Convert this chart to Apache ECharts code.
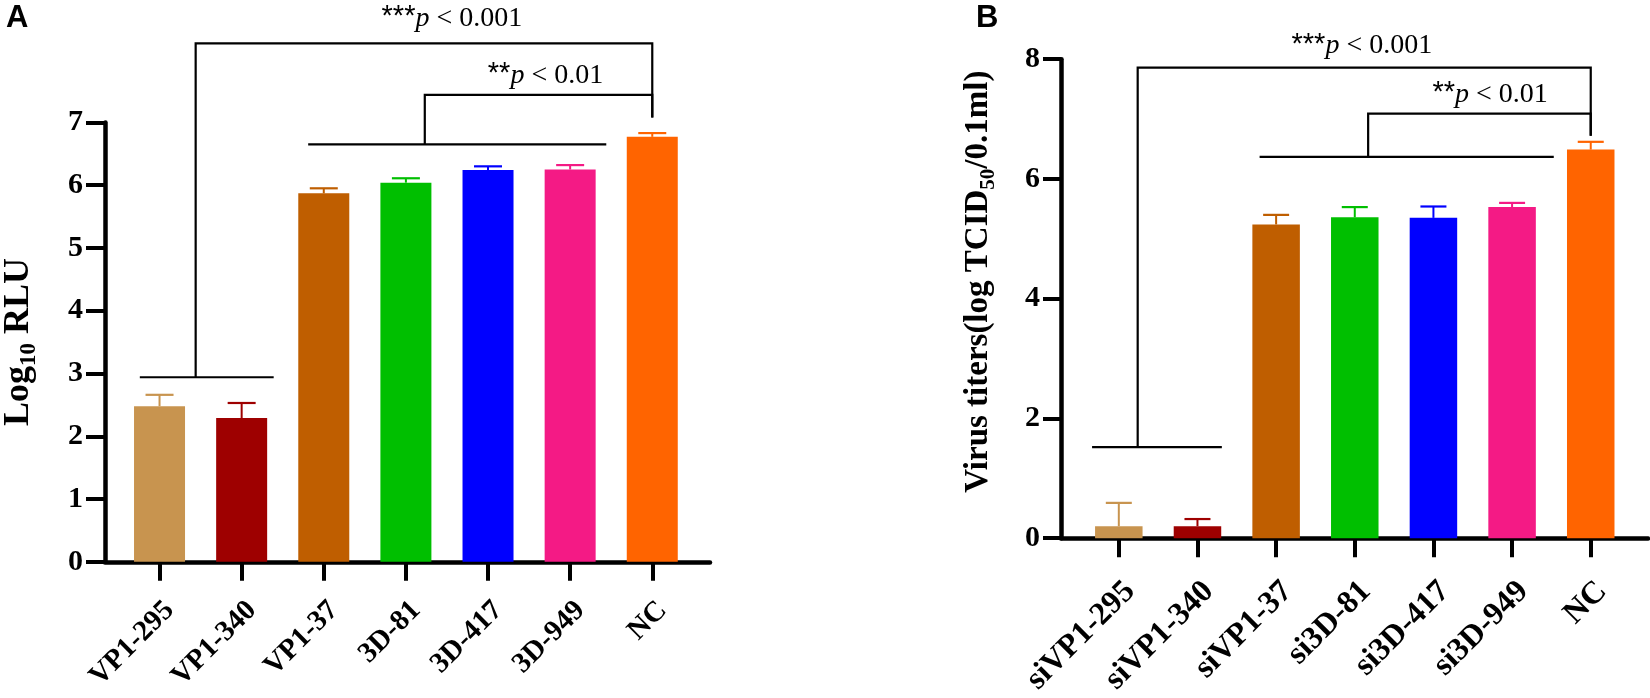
<!DOCTYPE html>
<html>
<head>
<meta charset="utf-8">
<script src="https://cdn.jsdelivr.net/npm/echarts@6/dist/echarts.min.js"></script>
<style>
html,body{margin:0;padding:0;background:#fff;}
#c{width:1650px;height:698px;}
</style>
</head>
<body>
<div id="c"></div>
<script>
// ---------- data ----------
const catsA = ['VP1-295', 'VP1-340', 'VP1-37', '3D-81', '3D-417', '3D-949', 'NC'];
const meanA = [2.48, 2.29, 5.87, 6.04, 6.24, 6.25, 6.77];
const errA  = [2.66, 2.53, 5.95, 6.11, 6.30, 6.32, 6.83];

const catsB = ['siVP1-295', 'siVP1-340', 'siVP1-37', 'si3D-81', 'si3D-417', 'si3D-949', 'NC'];
const meanB = [0.20, 0.20, 5.24, 5.36, 5.35, 5.53, 6.49];
const errB  = [0.59, 0.32, 5.40, 5.53, 5.54, 5.60, 6.62];

const barColors = ['#C8944F', '#9E0000', '#BF5E00', '#00BF00', '#0000FF', '#F41A85', '#FF6400'];

const yTicksA = [0, 1, 2, 3, 4, 5, 6, 7];
const yTicksB = [0, 2, 4, 6, 8];
const xTickPos = [0, 1, 2, 3, 4, 5, 6];

// significance annotations (category position / value units)
// group lines: [xFrom, xTo, y]
const groupLinesA = [[-0.24, 1.39, 2.94], [1.81, 5.44, 6.65]];
const groupLinesB = [[-0.34, 1.31, 1.52], [1.79, 5.53, 6.37]];
// brackets: [xLeft, xRight, yTop, yLeftBottom, yRightBottom]
const bracketsA = [[0.44, 6, 8.26, 2.94, 7.08], [3.23, 6, 7.44, 6.65, 7.08]];
const bracketsB = [[0.24, 6, 7.86, 1.52, 6.72], [3.17, 6, 7.09, 6.37, 6.72]];
// p-value labels: [x, y]
const pStars = ['***', '**'];
const pTexts = ['p', ' < 0.001', ' < 0.01'];
const pPosA = [[3.56, 8.65], [4.70, 7.74]];
const pPosB = [[3.09, 8.22], [4.72, 7.41]];

// ---------- chart ----------
const SERIF = '"Liberation Serif", "Times New Roman", serif';
const SANS = '"Liberation Sans", Arial, sans-serif';
const chart = echarts.init(document.getElementById('c'), null, {renderer: 'canvas'});

function xAxisCfg(gridIndex, min, max, cats, fontSize, margin) {
  return {
    type: 'value', gridIndex, min, max,
    splitLine: {show: false},
    axisLine: {show: true, onZero: false, lineStyle: {color: '#000', width: 4.5}},
    axisTick: {show: true, customValues: xTickPos, length: 19, inside: false,
               lineStyle: {color: '#000', width: 4}},
    axisLabel: {
      customValues: xTickPos, rotate: 45, margin, align: 'right', verticalAlign: 'top',
      fontFamily: SERIF, fontWeight: 'bold', fontSize, color: '#000',
      formatter: v => cats[Math.round(v)]
    }
  };
}
function yAxisCfg(gridIndex, max, interval, name, tickLen, margin, nameGap, nameSize, namePad) {
  return {
    type: 'value', gridIndex, min: 0, max, interval,
    splitLine: {show: false},
    axisLine: {show: true, onZero: false, lineStyle: {color: '#000', width: 4.5}},
    axisTick: {show: true, length: tickLen, lineStyle: {color: '#000', width: 4}},
    axisLabel: {margin, fontFamily: SERIF, fontWeight: 'bold', fontSize: 30, color: '#000'},
    name, nameLocation: 'middle', nameRotate: 90, nameGap,
    nameTextStyle: {
      padding: namePad,
      rich: {
        n: {fontFamily: SERIF, fontWeight: 'bold', fontSize: nameSize, color: '#000', lineHeight: nameSize + 8},
        s: {fontFamily: SERIF, fontWeight: 'bold', fontSize: Math.round(nameSize * 0.65), color: '#000',
            lineHeight: Math.round(nameSize * 0.65), verticalAlign: 'bottom'}
      }
    }
  };
}

function barSeries(idx, means, width) {
  return {
    type: 'bar', xAxisIndex: idx, yAxisIndex: idx, barWidth: width,
    data: means.map((m, i) => ({value: [i, m], itemStyle: {color: barColors[i]}})),
    z: 2
  };
}
function errSeries(idx, means, errs, halfCap) {
  return {
    type: 'custom', xAxisIndex: idx, yAxisIndex: idx, clip: false, z: 3,
    encode: {x: 0, y: [1, 2]},
    data: means.map((m, i) => [i, m, errs[i]]),
    renderItem(params, api) {
      const i = api.value(0);
      const base = api.coord([i, api.value(1)]);
      const top = api.coord([i, api.value(2)]);
      const c = barColors[i];
      return {type: 'group', children: [
        {type: 'line', shape: {x1: base[0], y1: base[1], x2: top[0], y2: top[1]}, style: {stroke: c, lineWidth: 2}},
        {type: 'line', shape: {x1: top[0] - halfCap, y1: top[1], x2: top[0] + halfCap, y2: top[1]}, style: {stroke: c, lineWidth: 2.2}}
      ]};
    }
  };
}
function groupLineSeries(idx, lines) {
  return {
    type: 'custom', xAxisIndex: idx, yAxisIndex: idx, clip: false, z: 4,
    encode: {x: [0, 1], y: 2},
    data: lines,
    renderItem(params, api) {
      const a = api.coord([api.value(0), api.value(2)]);
      const b = api.coord([api.value(1), api.value(2)]);
      return {type: 'line', shape: {x1: a[0], y1: a[1], x2: b[0], y2: b[1]}, style: {stroke: '#000', lineWidth: 2.2}};
    }
  };
}
function bracketSeries(idx, brs) {
  return {
    type: 'custom', xAxisIndex: idx, yAxisIndex: idx, clip: false, z: 4,
    encode: {x: [0, 1], y: [2, 3, 4]},
    data: brs,
    renderItem(params, api) {
      const xl = api.value(0), xr = api.value(1);
      const lb = api.coord([xl, api.value(3)]);
      const lt = api.coord([xl, api.value(2)]);
      const rt = api.coord([xr, api.value(2)]);
      const rb = api.coord([xr, api.value(4)]);
      return {type: 'polyline', shape: {points: [lb, lt, rt, rb]},
              style: {stroke: '#000', lineWidth: 2.2, fill: null, lineJoin: 'miter'}};
    }
  };
}
function pTextSeries(idx, pos) {
  return {
    type: 'custom', xAxisIndex: idx, yAxisIndex: idx, clip: false, z: 5,
    encode: {x: 0, y: 1},
    data: pos.map((p, i) => [p[0], p[1], i]),
    renderItem(params, api) {
      const i = api.value(2);
      const pt = api.coord([api.value(0), api.value(1)]);
      return {
        type: 'text',
        style: {
          x: pt[0], y: pt[1], align: 'center', verticalAlign: 'middle',
          text: '{s|' + pStars[i] + '}{p|' + pTexts[0] + '}{n|' + pTexts[i + 1] + '}',
          rich: {
            s: {fontFamily: SANS, fontSize: 29, fill: '#000', lineHeight: 26, verticalAlign: 'top'},
            p: {fontFamily: SERIF, fontStyle: 'italic', fontSize: 28, fill: '#000', lineHeight: 32},
            n: {fontFamily: SERIF, fontSize: 28, fill: '#000', lineHeight: 32}
          }
        }
      };
    }
  };
}

const option = {
  backgroundColor: '#fff',
  animation: false,
  title: [
    {text: 'A', left: 1, top: -2, textStyle: {fontFamily: SANS, fontWeight: 'bold', fontSize: 31, color: '#000'}},
    {text: 'B', left: 971, top: -2, textStyle: {fontFamily: SANS, fontWeight: 'bold', fontSize: 31, color: '#000'}}
  ],
  grid: [
    {left: 103.3, top: 122.4, width: 606.7, height: 439.4, containLabel: false},
    {left: 1061, top: 59.2, width: 587, height: 491.3, containLabel: false}
  ],
  xAxis: [
    xAxisCfg(0, -0.664, 6.703, catsA, 29, 34),
    xAxisCfg(1, -0.735, 6.728, catsB, 32, 37)
  ],
  yAxis: [
    yAxisCfg(0, 7, 1, '{n|Log}{s|10}{n| RLU}', 19, 22, 64, 36, [0, 0, 0, 0]),
    yAxisCfg(1, 8, 2, '{n|Virus titers(log TCID}{s|50}{n|/0.1ml)}', 18, 21, 62, 33, [0, 0, 0, 34])
  ],
  series: [
    barSeries(0, meanA, 51),
    errSeries(0, meanA, errA, 14),
    groupLineSeries(0, groupLinesA),
    bracketSeries(0, bracketsA),
    pTextSeries(0, pPosA),
    barSeries(1, meanB, 47.5),
    errSeries(1, meanB, errB, 13),
    groupLineSeries(1, groupLinesB),
    bracketSeries(1, bracketsB),
    pTextSeries(1, pPosB)
  ]
};
chart.setOption(option);
</script>
</body>
</html>
